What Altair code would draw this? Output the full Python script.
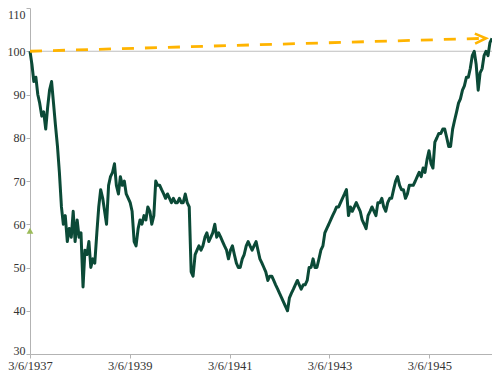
import altair as alt
import pandas as pd

values = [
    100, 97, 93, 94, 90, 88, 85, 86, 82, 87,
    91, 93, 88, 83, 78, 72, 64, 60, 62, 56,
    59, 57, 63, 56, 61, 57, 58, 45.5, 54, 53,
    56, 50, 52, 51, 58, 64, 68, 66, 63, 60,
    69, 71, 72, 74, 69, 67, 71, 69, 70, 67,
    66, 65, 63, 56, 55, 59, 61, 60, 62, 61,
    64, 63, 60, 62, 70, 69, 69, 68, 67, 66,
    67, 66, 65, 66, 65, 65, 66, 65, 65, 67,
    65, 64, 49, 48, 53, 54, 55, 54, 55, 57,
    58, 56, 57, 58, 60, 57, 58, 57, 56, 55,
    54, 52, 54, 55, 53, 51, 50, 50, 52, 53,
    55, 56, 55, 54, 55, 56, 54, 52, 51, 50,
    49, 47, 48, 48, 47, 46, 45, 44, 43, 42,
    41, 40, 43, 44, 45, 46, 47, 46, 45, 46,
    46, 47, 50, 50, 52, 50, 50, 52, 54, 55,
    58, 59, 60, 61, 62, 63, 64, 64, 65, 66,
    67, 68, 62, 64, 63, 64, 65, 64, 63, 61,
    60, 59, 62, 63, 64, 63, 62, 65, 65, 66,
    64, 63, 65, 66, 66, 68, 70, 71, 69, 68,
    68, 66, 67, 69, 69, 69, 70, 71, 72, 71,
    73, 72, 75, 77, 74, 73, 79, 80, 81, 81,
    82, 82, 80, 78, 78, 82, 84, 86, 88, 89,
    91, 92, 94, 94, 96, 99, 100, 97, 91, 95,
    96, 99, 100, 99, 102, 103,
]
start_date = "1937-03-06"
end_date = "1946-06-07"
domain_end = (1946, 6, 7)

tick_years = [1937, 1939, 1941, 1943, 1945]
y_ticks = [30, 40, 50, 60, 70, 80, 90, 100, 110]
ref_level = [100]

arrow_dates = ["1937-03-06", "1946-04-24"]
arrow_values = [100, 103]

marker_dates = ["1937-03-06"]
marker_values = [58.5]

dates = pd.date_range(start_date, end_date, periods=len(values)).strftime("%Y-%m-%d")
df_line = pd.DataFrame({"date": list(dates), "value": values})
df_ref = pd.DataFrame({"value": ref_level})
df_arrow = pd.DataFrame({"date": arrow_dates, "value": arrow_values})
df_tip = df_arrow.tail(1)
df_marker = pd.DataFrame({"date": marker_dates, "value": marker_values})

AXIS_GRAY = "#B3B3B3"
LABEL_COLOR = "#333333"
LINE_GREEN = "#0B4A37"
ARROW_ORANGE = "#FFB400"

x_scale = alt.Scale(
    type="utc",
    domain=[
        alt.DateTime(year=1937, month=3, date=6, utc=True),
        alt.DateTime(year=domain_end[0], month=domain_end[1], date=domain_end[2], utc=True),
    ],
    nice=False,
)
y_scale = alt.Scale(domain=[30, 110], nice=False, zero=False)

x_enc = alt.X(
    "date:T",
    scale=x_scale,
    axis=alt.Axis(
        values=[alt.DateTime(year=y, month=3, date=6, utc=True) for y in tick_years],
        labelExpr="utcFormat(datum.value, '%-m/%-d/%Y')",
        title=None,
        grid=False,
        domainColor=AXIS_GRAY,
        tickColor=AXIS_GRAY,
        tickSize=4,
        labelPadding=1,
        labelFlush=False,
        labelOverlap=False,
        labelFont="Liberation Serif",
        labelFontSize=12.5,
        labelColor=LABEL_COLOR,
    ),
)
y_enc = alt.Y(
    "value:Q",
    scale=y_scale,
    axis=alt.Axis(
        values=y_ticks,
        title=None,
        grid=False,
        domainColor=AXIS_GRAY,
        tickColor=AXIS_GRAY,
        tickSize=4,
        labelPadding=1,
        labelFlush=False,
        labelFont="Liberation Serif",
        labelFontSize=12,
        labelColor=LABEL_COLOR,
        labelOffset={"condition": {"test": "datum.value === 110", "value": 6}, "value": 0},
        labelBaseline={"condition": {"test": "datum.value === 30", "value": "alphabetic"}, "value": "middle"},
    ),
)

ref_rule = alt.Chart(df_ref).mark_rule(color="#BFBFBF", strokeWidth=1).encode(y=y_enc)

line = alt.Chart(df_line).mark_line(
    color=LINE_GREEN, strokeWidth=3, strokeJoin="round"
).encode(x=x_enc, y=y_enc)

arrow = alt.Chart(df_arrow).mark_line(
    color=ARROW_ORANGE, strokeWidth=2.8, strokeDash=[12, 11]
).encode(x=x_enc, y=y_enc)

tip = alt.Chart(df_tip).mark_point(
    shape="M-2.2,-1L0,0L-2.2,1",
    filled=False,
    color=ARROW_ORANGE,
    strokeWidth=2.6,
    size=100,
    opacity=1,
    angle=358.4,
).encode(x=x_enc, y=y_enc)

marker = alt.Chart(df_marker).mark_point(
    shape="triangle-up", filled=True, color="#9BBB59", size=45, opacity=1
).encode(x=x_enc, y=y_enc)

chart = (
    alt.layer(ref_rule, line, arrow, tip, marker)
    .properties(
        width=462,
        height=346,
        autosize=alt.AutoSizeParams(type="none"),
        padding={"left": 22, "top": 0, "right": 0, "bottom": 17},
    )
    .configure_view(strokeWidth=0)
)

chart.save("out.html", embed_options={"renderer": "svg", "actions": False})
